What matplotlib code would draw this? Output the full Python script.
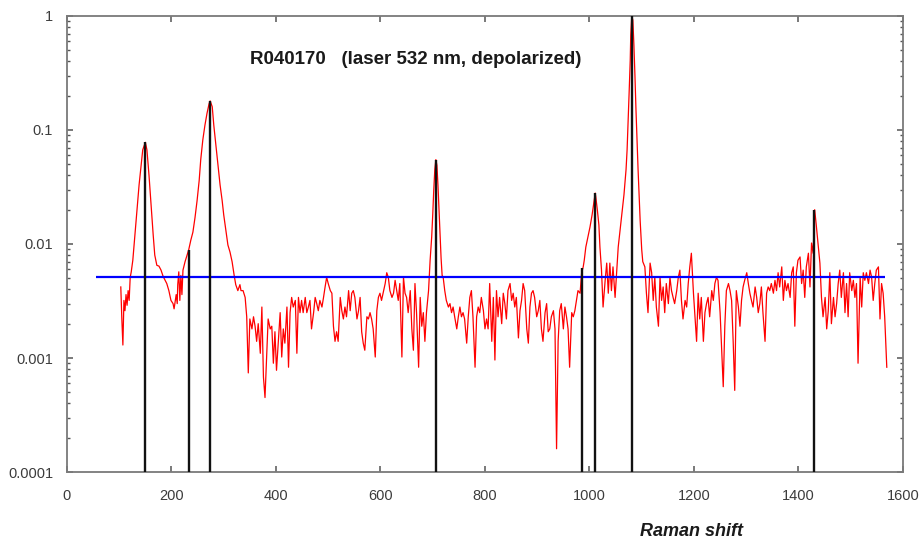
import numpy as np
import matplotlib
matplotlib.use("Agg")
import matplotlib.pyplot as plt
from matplotlib.ticker import FixedLocator, LogLocator, FuncFormatter, NullFormatter

plt.rcParams["font.family"] = ["Liberation Sans", "DejaVu Sans"]

# ---- spectrum, split into consecutive ranges (Raman shift in cm-1, normalised intensity)
shift_a = [103, 105, 107, 109, 111, 113, 115, 117, 119, 121, 123, 126, 130, 134, 138,
           142, 145, 150, 153, 157, 161, 165, 168, 172, 176, 180, 184, 188, 191, 195,
           199, 203, 205, 209, 211, 212, 214, 216, 218, 220, 222, 226, 230, 233, 237,
           241, 245, 249, 253, 256, 260, 264, 268, 272, 274, 278, 281, 285, 289, 293,
           297, 300, 304, 308, 312, 316, 320, 323, 327, 331, 333, 337, 341]
int_a = [0.0042, 0.0022, 0.0013, 0.0032, 0.0026, 0.0036, 0.0029, 0.0039, 0.0032, 0.0051,
         0.0057, 0.0072, 0.0120, 0.020, 0.033, 0.049, 0.067, 0.078, 0.067, 0.040,
         0.022, 0.012, 0.0080, 0.0065, 0.0064, 0.0059, 0.0052, 0.0048, 0.0045, 0.0039,
         0.0032, 0.0030, 0.0027, 0.0036, 0.0030, 0.0044, 0.0057, 0.0032, 0.0053, 0.0036,
         0.0059, 0.0070, 0.0080, 0.0089, 0.0108, 0.0127, 0.017, 0.024, 0.036, 0.055,
         0.082, 0.11, 0.14, 0.17, 0.18, 0.16, 0.11, 0.074, 0.049, 0.033,
         0.024, 0.018, 0.0133, 0.0098, 0.0085, 0.0070, 0.0053, 0.0044, 0.0039, 0.0044,
         0.0039, 0.0039, 0.0034]

shift_b = [344, 347, 350, 354, 357, 360, 363, 366, 370, 373,
           376, 379, 382, 385, 389, 392, 395, 398, 401, 405,
           408, 411, 414, 417, 421, 424, 427, 430, 433, 437,
           440, 443, 446, 449, 452, 456, 459, 462, 465, 468,
           472, 475, 478, 481, 484, 488, 491, 494, 497, 500,
           504, 507, 510, 513, 516, 519, 523, 526, 529, 532,
           535, 539, 542, 545, 548, 551, 555, 558, 561, 564,
           567, 570, 574, 577, 580, 583, 586, 590, 593, 596,
           599, 602, 606, 609, 612, 615, 618, 622, 625, 628,
           631, 634, 637, 641, 644, 647, 650, 653, 657, 660,
           663, 666, 669, 673, 676, 679, 682, 685, 688, 692,
           695, 698]
int_b = [0.0023, 0.00074, 0.0022, 0.0018, 0.0023, 0.0019, 0.0014, 0.0020, 0.0011, 0.0028,
         0.00068, 0.00045, 0.00102, 0.0022, 0.0018, 0.0019, 0.00090, 0.0017, 0.00078, 0.0015,
         0.0025, 0.00102, 0.0018, 0.00135, 0.0028, 0.00083, 0.0025, 0.0034, 0.0028, 0.0032,
         0.0011, 0.0034, 0.0025, 0.0032, 0.0025, 0.0034, 0.0025, 0.0028, 0.0032, 0.0018,
         0.0025, 0.0034, 0.0030, 0.0026, 0.0032, 0.0028, 0.0034, 0.0042, 0.0051, 0.0045,
         0.0039, 0.0037, 0.0019, 0.0014, 0.0017, 0.0014, 0.0034, 0.0026, 0.0022, 0.0028,
         0.0023, 0.0039, 0.0026, 0.0037, 0.0039, 0.0034, 0.0022, 0.0026, 0.0034, 0.0017,
         0.00135, 0.00117, 0.0023, 0.0022, 0.0025, 0.0022, 0.0018, 0.00102, 0.0026, 0.0034,
         0.0037, 0.0032, 0.0039, 0.0045, 0.0056, 0.0051, 0.0039, 0.0034, 0.0037, 0.0048,
         0.0039, 0.0032, 0.0045, 0.00102, 0.0051, 0.0037, 0.0034, 0.0025, 0.0039, 0.0018,
         0.00117, 0.0045, 0.0025, 0.00083, 0.0034, 0.0019, 0.0025, 0.0014, 0.0025, 0.0039,
         0.0072, 0.0115]

shift_c = [700, 702, 704, 706, 708, 710, 712, 714, 716, 718]
int_c = [0.018, 0.030, 0.045, 0.055, 0.049, 0.033, 0.020, 0.012, 0.0075, 0.0053]

shift_d = [720, 723, 726, 730, 733, 736, 739, 742, 746, 749,
           752, 755, 758, 761, 765, 768, 771, 774, 777, 781,
           784, 787, 790, 793, 797, 800, 803, 806, 809, 813,
           816, 819, 822, 825, 828, 832, 835, 838, 841, 844,
           848, 851, 854, 857, 860, 864, 867, 870, 873, 876,
           880, 883, 886, 889, 892, 895, 899, 902, 905, 908,
           911, 915, 918, 921, 924, 927, 931, 934, 937, 940,
           943, 946, 950, 953, 956, 959, 962, 966, 969, 972,
           975, 978, 982, 985]
int_d = [0.0051, 0.0039, 0.0032, 0.0028, 0.0030, 0.0025, 0.0028, 0.0023, 0.0018, 0.0023,
         0.0028, 0.0023, 0.0025, 0.0022, 0.00135, 0.0023, 0.0034, 0.0039, 0.0023, 0.00083,
         0.0023, 0.0028, 0.0025, 0.0034, 0.0026, 0.0018, 0.0022, 0.0018, 0.0045, 0.0014,
         0.0034, 0.00096, 0.0039, 0.0023, 0.0034, 0.0020, 0.0037, 0.0030, 0.0022, 0.0039,
         0.0045, 0.0032, 0.0037, 0.0028, 0.0034, 0.0015, 0.0026, 0.0032, 0.0045, 0.0039,
         0.0018, 0.00135, 0.0028, 0.0037, 0.0039, 0.0034, 0.0023, 0.0026, 0.0032, 0.0018,
         0.0014, 0.0025, 0.0030, 0.0017, 0.0018, 0.0023, 0.0026, 0.0018, 0.00016, 0.0014,
         0.0026, 0.0030, 0.0018, 0.0028, 0.0023, 0.0018, 0.00083, 0.0025, 0.0023, 0.0026,
         0.0032, 0.0039, 0.0037, 0.0056]

shift_e = [988, 990, 993, 997, 1001, 1005, 1009, 1011, 1012, 1015,
           1018, 1020, 1023, 1026, 1030, 1033, 1036, 1039, 1042, 1045,
           1049, 1053, 1055, 1058, 1062, 1066, 1070, 1072, 1074, 1076,
           1078, 1079, 1081, 1083, 1085, 1087, 1089, 1091, 1093, 1097,
           1100, 1102]
int_e = [0.0063, 0.0072, 0.0094, 0.0115, 0.0141, 0.018, 0.024, 0.028, 0.026, 0.020,
         0.0147, 0.0094, 0.0059, 0.0028, 0.0048, 0.0068, 0.0037, 0.0068, 0.0039, 0.0063,
         0.0034, 0.0068, 0.0094, 0.0125, 0.018, 0.027, 0.045, 0.067, 0.12, 0.22,
         0.41, 0.68, 1.0, 0.92, 0.56, 0.30, 0.15, 0.082, 0.045, 0.016,
         0.0089, 0.0070]

shift_f = [1106, 1109, 1112, 1116, 1119, 1122, 1125, 1128, 1132, 1135,
           1138, 1141, 1144, 1147, 1151, 1154, 1157, 1160, 1163, 1167,
           1170, 1173, 1176, 1179, 1183, 1186, 1189, 1192, 1195, 1199,
           1202, 1205, 1208, 1211, 1214, 1218, 1221, 1224, 1227, 1230,
           1234, 1237, 1240, 1243, 1246, 1250, 1253, 1256, 1259, 1262,
           1266, 1269, 1272, 1275, 1278, 1281, 1285, 1288, 1291, 1294,
           1297, 1301, 1304, 1307, 1310, 1313, 1317, 1320, 1323, 1326,
           1329, 1332, 1336, 1339, 1342, 1345, 1348, 1352, 1355, 1358,
           1361, 1364, 1368, 1371, 1374, 1377, 1380, 1384, 1387, 1390,
           1393, 1396, 1399, 1403, 1406, 1409, 1412, 1415, 1419, 1422,
           1425, 1428]
int_f = [0.0063, 0.0037, 0.0025, 0.0068, 0.0056, 0.0032, 0.0051, 0.0028, 0.0019, 0.0051,
         0.0032, 0.0042, 0.0025, 0.0045, 0.0030, 0.0051, 0.0039, 0.0034, 0.0030, 0.0039,
         0.0051, 0.0059, 0.0032, 0.0022, 0.0032, 0.0028, 0.0045, 0.0063, 0.0083, 0.0037,
         0.0023, 0.0014, 0.0037, 0.0022, 0.0034, 0.0014, 0.0025, 0.0030, 0.0034, 0.0023,
         0.0039, 0.0032, 0.0045, 0.0051, 0.0048, 0.0025, 0.00117, 0.00056, 0.0019, 0.0039,
         0.0045, 0.0039, 0.0032, 0.0014, 0.00052, 0.0039, 0.0028, 0.0019, 0.0032, 0.0042,
         0.0048, 0.0056, 0.0045, 0.0037, 0.0032, 0.0028, 0.0042, 0.0034, 0.0025, 0.0030,
         0.0042, 0.0025, 0.0014, 0.0037, 0.0042, 0.0039, 0.0045, 0.0037, 0.0048, 0.0039,
         0.0056, 0.0042, 0.0063, 0.0032, 0.0048, 0.0039, 0.0045, 0.0034, 0.0056, 0.0063,
         0.0019, 0.0056, 0.0072, 0.0077, 0.0045, 0.0059, 0.0034, 0.0063, 0.0083, 0.0042,
         0.0102, 0.0083]

shift_g = [1431, 1434, 1437,
           1441, 1444, 1447, 1451, 1454, 1457, 1460, 1463, 1467, 1470,
           1473, 1476, 1479, 1482, 1486, 1489, 1492, 1495, 1498, 1502,
           1505, 1508, 1511, 1514, 1518, 1521, 1524, 1527, 1530, 1534,
           1537, 1540, 1543, 1546, 1549, 1553, 1556, 1559, 1562, 1565,
           1569]
int_g = [0.020, 0.0147, 0.0105,
         0.0068, 0.0034, 0.0023, 0.0034, 0.0018, 0.0026, 0.0056, 0.0020, 0.0034, 0.0023,
         0.0030, 0.0045, 0.0059, 0.0034, 0.0056, 0.0025, 0.0045, 0.0023, 0.0056, 0.0039,
         0.0048, 0.0034, 0.0045, 0.00090, 0.0051, 0.0028, 0.0056, 0.0048, 0.0056, 0.0045,
         0.0059, 0.0051, 0.0032, 0.0045, 0.0059, 0.0063, 0.0022, 0.0045, 0.0037, 0.0023,
         0.00083]

# ---- identified band positions and their relative heights
band_pos = [150, 233, 274, 706, 986, 1011, 1081, 1430]
band_height = [0.078, 0.0089, 0.18, 0.055, 0.0062, 0.028, 1.0, 0.020]

# ---- noise threshold level
threshold = 0.0051
threshold_span = [55, 1565]

title = "R040170   (laser 532 nm, depolarized)"
x_label = "Raman shift"
x_ticks = [0, 200, 400, 600, 800, 1000, 1200, 1400, 1600]
y_ticks = [0.0001, 0.001, 0.01, 0.1, 1]

shift = np.concatenate([shift_a, shift_b, shift_c, shift_d, shift_e, shift_f, shift_g])
intensity = np.concatenate([int_a, int_b, int_c, int_d, int_e, int_f, int_g])

fig = plt.figure(figsize=(9.2, 5.4), dpi=100)
ax = fig.add_axes([0.0728, 0.1259, 0.9087, 0.8445])

ax.plot(shift, intensity, color="#ff0000", lw=0.9, zorder=2)
ax.hlines(threshold, threshold_span[0], threshold_span[1], color="#0000ff", lw=1.6, zorder=3)
ax.vlines(band_pos, y_ticks[0], band_height, color="#111111", lw=1.7, zorder=4)

ax.set_yscale("log")
ax.set_xlim(0, 1600)
ax.set_ylim(1e-4, 1)

ax.xaxis.set_major_locator(FixedLocator(x_ticks))
ax.yaxis.set_major_locator(FixedLocator(y_ticks))
ax.yaxis.set_minor_locator(LogLocator(base=10, subs=np.arange(2, 10), numticks=20))
ax.yaxis.set_minor_formatter(NullFormatter())
ax.yaxis.set_major_formatter(FuncFormatter(lambda v, p: f"{v:g}"))

spine_col = "#7a7a7a"
for s in ax.spines.values():
    s.set_color(spine_col)
    s.set_linewidth(1.3)

ax.tick_params(which="both", direction="in", top=True, right=True, colors="#555555",
               labelcolor="#3c3c3c", labelsize=10.5)
ax.tick_params(which="major", length=4, width=1.1)
ax.tick_params(which="minor", length=2.5, width=1.0)
ax.tick_params(axis="x", pad=12)
ax.tick_params(axis="y", pad=10)

ax.text(0.219, 0.9035, title, transform=ax.transAxes, ha="left", va="center",
        fontsize=13.5, fontweight="bold", color="#1a1a1a")
fig.text(691 / 920, 1 - 531 / 540, x_label, ha="center", va="center",
         fontsize=13, fontweight="bold", fontstyle="italic", color="#1a1a1a")

fig.savefig("out.png", dpi=100)
